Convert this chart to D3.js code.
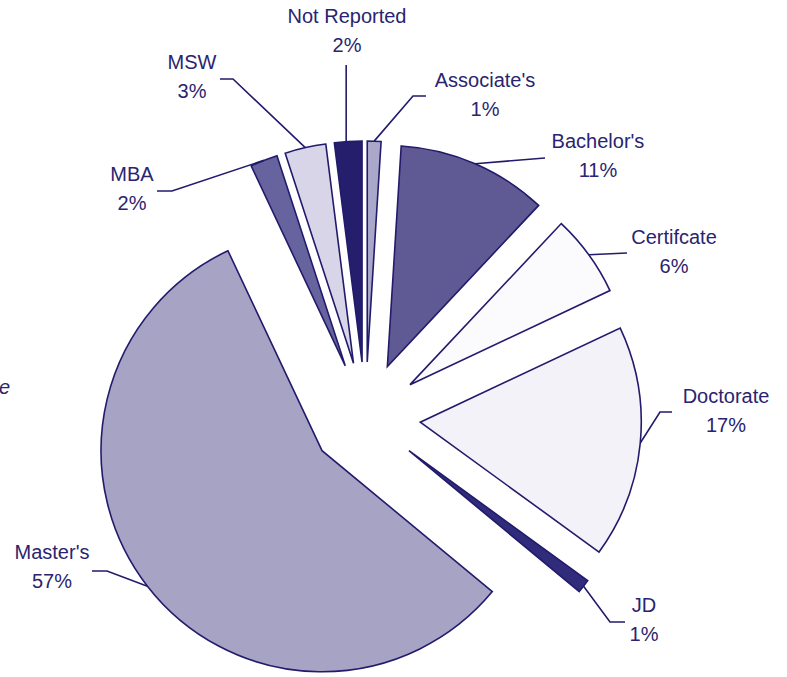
<!DOCTYPE html>
<html>
<head>
<meta charset="utf-8">
<script src="https://cdn.jsdelivr.net/npm/d3@7/dist/d3.min.js"></script>
<style>
  html, body { margin: 0; padding: 0; background: #ffffff; }
  svg { display: block; }
  text { font-family: "Liberation Sans", Arial, sans-serif; }
</style>
</head>
<body>
<svg id="chart" width="787" height="677"></svg>
<script>
// ---- data ----
const categories = ["Associate's", "Bachelor's", "Certifcate", "Doctorate", "JD", "Master's", "MBA", "MSW", "Not Reported"];
const values = [1, 11, 6, 17, 1, 57, 2, 3, 2];
const percentLabels = ["1%", "11%", "6%", "17%", "1%", "57%", "2%", "3%", "2%"];
const fillColors = ["#aaa8ca", "#5f5994", "#fbfbfd", "#f3f2f8", "#312b7b", "#a6a3c5", "#67639e", "#d7d5e7", "#251e6c"];

// ---- layout (positions for labels, separate from data) ----
const labelLayout = {
  "Associate's":  { elbow: [413, 96],  end: [426, 96],  text: [485, 87] },
  "Bachelor's":   { elbow: [545, 158], end: [545, 158], text: [598, 148] },
  "Certifcate":   { elbow: [627, 253], end: [627, 253], text: [674, 244] },
  "Doctorate":    { elbow: [660, 412], end: [672, 412], text: [726, 403] },
  "JD":           { elbow: [610, 622], end: [625, 622], text: [644, 612] },
  "Master's":     { elbow: [107, 571], end: [92, 571],  text: [52, 559] },
  "MBA":          { elbow: [172, 191], end: [157, 191], text: [132, 181] },
  "MSW":          { elbow: [233, 79],  end: [220, 79],  text: [192, 69] },
  "Not Reported": { elbow: null,       end: [null, 65], text: [347, 23] }
};

const cx = 365.5, cy = 417, radius = 221, explode = 55;
const stroke = "#221b6c", textColor = "#2a2470";

const svg = d3.select("#chart");

const pie = d3.pie().sort(null).value(d => d.value).startAngle(0).endAngle(2 * Math.PI);
const arc = d3.arc().innerRadius(0).outerRadius(radius);

const data = categories.map((c, i) => ({ name: c, value: values[i], pct: percentLabels[i], fill: fillColors[i] }));
const arcs = pie(data);

const g = svg.append("g").attr("transform", `translate(${cx},${cy})`);

g.selectAll("path.slice")
  .data(arcs)
  .join("path")
  .attr("class", "slice")
  .attr("d", arc)
  .attr("transform", d => {
    const a = (d.startAngle + d.endAngle) / 2;
    return `translate(${Math.sin(a) * explode},${-Math.cos(a) * explode})`;
  })
  .attr("fill", d => d.data.fill)
  .attr("stroke", stroke)
  .attr("stroke-width", 1.6)
  .attr("stroke-linejoin", "miter");

// leader lines
arcs.forEach(d => {
  const a = (d.startAngle + d.endAngle) / 2;
  const r = radius + explode;
  const sx = cx + Math.sin(a) * r;
  const sy = cy - Math.cos(a) * r;
  const L = labelLayout[d.data.name];
  let pts;
  if (L.elbow === null) {
    pts = [[sx - 2, sy], [sx - 2, L.end[1]]];
  } else {
    pts = [[sx, sy], L.elbow, L.end];
  }
  svg.append("path")
    .attr("d", d3.line()(pts))
    .attr("fill", "none")
    .attr("stroke", stroke)
    .attr("stroke-width", 1.6);

  const t = svg.append("text")
    .attr("x", L.text[0])
    .attr("y", L.text[1])
    .attr("text-anchor", "middle")
    .attr("font-size", 20)
    .attr("fill", textColor);
  t.append("tspan").attr("x", L.text[0]).attr("y", L.text[1]).text(d.data.name);
  t.append("tspan").attr("x", L.text[0]).attr("y", L.text[1] + 29).text(d.data.pct);
});

// stray cropped text fragment at left edge
svg.append("text")
  .attr("x", -1)
  .attr("y", 394)
  .attr("font-family", "'Liberation Serif', 'Times New Roman', serif")
  .attr("font-style", "italic")
  .attr("font-size", 20)
  .attr("fill", textColor)
  .text("e");
</script>
</body>
</html>
